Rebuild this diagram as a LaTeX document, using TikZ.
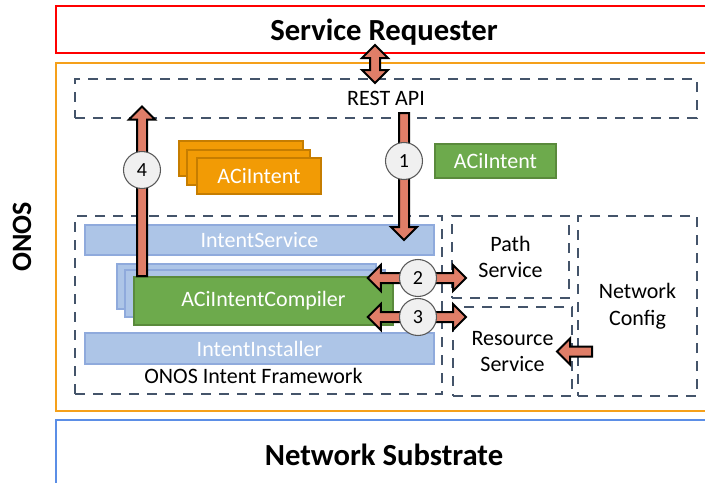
\documentclass[tikz,border=0pt]{standalone}
\usepackage{fontspec}
\setmainfont{Carlito}
\usetikzlibrary{calc,positioning,fit}

\definecolor{navy}{HTML}{44546A}
\definecolor{salmon}{HTML}{E07E68}
\definecolor{onosorange}{HTML}{F5A01A}
\definecolor{subsblue}{HTML}{5B8EE6}
\definecolor{barfill}{HTML}{ADC5E7}
\definecolor{barline}{HTML}{8FAADC}
\definecolor{greenfill}{HTML}{6DAA4C}
\definecolor{greenline}{HTML}{5A8A3C}
\definecolor{orangefill}{HTML}{F29B05}
\definecolor{orangeline}{HTML}{C67D00}

\tikzset{
  txt/.style={font=\fontsize{16.5}{20}\selectfont},
  head/.style={font=\fontsize{23}{26}\selectfont\bfseries},
  layer/.style={inner sep=0pt,line width=1.5pt},
  dashbox/.style={draw=navy,line width=1.5pt,dash pattern=on 7.5pt off 6pt,inner sep=0pt},
  bluebar/.style={draw=barline,fill=barfill,line width=1.2pt,inner sep=0pt},
  greenbox/.style={draw=greenline,fill=greenfill,line width=1.2pt,inner sep=0pt},
  orangebox/.style={draw=orangeline,fill=orangefill,line width=1.2pt,inner sep=0pt},
  intext/.style={txt,align=center},
  whitetext/.style={txt,text=white},
  num/.style={circle,draw=gray!70!black,fill=gray!12,line width=0.8pt,minimum size=27.75pt,inner sep=0pt,font=\fontsize{15}{17}\selectfont},
  blockarr/.style={draw=black,fill=salmon,line width=1.5pt,line join=miter}
}

% single block arrow from #1 to tip #2
\newcommand{\blockarrow}[2]{%
  \coordinate (ba-s) at (#1);
  \coordinate (ba-e) at (#2);
  \coordinate (ba-h) at ($(ba-e)!9.75pt!(ba-s)$);
  \draw[blockarr] ($(ba-s)!3.75pt!90:(ba-e)$) -- ($(ba-h)!3.75pt!90:(ba-e)$)
    -- ($(ba-h)!9.75pt!90:(ba-e)$) -- (ba-e) -- ($(ba-h)!9.75pt!-90:(ba-e)$)
    -- ($(ba-h)!3.75pt!-90:(ba-e)$) -- ($(ba-s)!3.75pt!-90:(ba-e)$) -- cycle;
}
% block arrow with tips at both ends
\newcommand{\dblarrow}[2]{%
  \coordinate (ba-s) at (#1);
  \coordinate (ba-e) at (#2);
  \coordinate (ba-h) at ($(ba-s)!9.75pt!(ba-e)$);
  \coordinate (ba-k) at ($(ba-e)!9.75pt!(ba-s)$);
  \draw[blockarr] (ba-s) -- ($(ba-h)!9.75pt!90:(ba-e)$) -- ($(ba-h)!3.75pt!90:(ba-e)$)
    -- ($(ba-k)!3.75pt!90:(ba-e)$) -- ($(ba-k)!9.75pt!90:(ba-e)$) -- (ba-e)
    -- ($(ba-k)!9.75pt!-90:(ba-e)$) -- ($(ba-k)!3.75pt!-90:(ba-e)$)
    -- ($(ba-h)!3.75pt!-90:(ba-e)$) -- ($(ba-h)!9.75pt!-90:(ba-e)$) -- cycle;
}

\begin{document}
\begin{tikzpicture}[x=0.75pt,y=-0.75pt]
  \useasboundingbox (0,0) rectangle (705,482);

  % layers
  \node (req) [layer,draw=red,fit={(56,6) (712,53)},label={[head,yshift=-2pt]center:Service Requester}] {};
  \node (onos) [layer,draw=onosorange,fit={(56,63) (712,411)}] {};
  \node (onoslabel) [head,font=\fontsize{21}{24}\selectfont\bfseries,rotate=90] at (22,237) {ONOS};
  \node (subs) [layer,draw=subsblue,fit={(56,420) (712,490)},label={[head]center:Network Substrate}] {};

  % inside ONOS
  \node (rest) [dashbox,fit={(75,79) (697,118)},label={[intext]center:REST API}] {};
  \node (fw) [dashbox,fit={(75,216) (442,394)}] {};
  \node (svc) [bluebar,fit={(85,225) (434,255)},label={[whitetext]center:IntentService}] {};
  \node (inst) [bluebar,fit={(85,333) (434,364)},label={[whitetext]center:IntentInstaller}] {};
  \node (fwlabel) [txt,below=-1pt of inst,xshift=-4.5pt] {ONOS Intent Framework};
  \node (comp3) [bluebar,fit={(117,264) (376,309)}] {};
  \node (comp2) [bluebar,fit={(125,270) (385,317)}] {};
  \node (comp) [greenbox,fit={(134,277) (393,325)},label={[whitetext]center:ACiIntentCompiler}] {};
  \node (int3) [orangebox,fit={(179,141) (303,176)}] {};
  \node (int2) [orangebox,fit={(187,150) (310,185)}] {};
  \node (int) [orangebox,fit={(197,158) (321,194)},label={[whitetext]center:ACiIntent}] {};
  \node (newint) [greenbox,fit={(435,144) (556,178)},label={[whitetext]center:ACiIntent}] {};
  \node (path) [dashbox,fit={(452,216) (569,298)},label={[intext]center:Path\\Service}] {};
  \node (res) [dashbox,fit={(453,307) (572,396)},label={[intext]center:Resource\\Service}] {};
  \node (ncfg) [dashbox,fit={(578,216) (697,396)},label={[intext]center:Network\\Config}] {};

  % steps
  \coordinate (p4) at (142,170);
  \coordinate (p1) at (404,161);
  \coordinate (p2) at (418,278);
  \coordinate (p3) at (418,317);

  \dblarrow{$(req.south)+(-9,-9)$}{$(rest.north)+(-11,5)$}
  \blockarrow{comp.north -| p4}{$(rest.center -| p4)+(0,8)$}
  \blockarrow{$(rest.south -| p1)+(0,-6)$}{svc.center -| p1}
  \dblarrow{$(comp.east |- p2)+(-26,0)$}{$(path.west |- p2)+(15,0)$}
  \dblarrow{$(comp.east |- p3)+(-26,0)$}{$(path.west |- p3)+(15,0)$}
  \blockarrow{$(res.east -| ncfg.west)+(15,0)$}{$(res.east)+(-16,0)$}

  \node (c4) [num] at (p4) {4};
  \node (c1) [num] at (p1) {1};
  \node (c2) [num] at (p2) {2};
  \node (c3) [num] at (p3) {3};
\end{tikzpicture}
\end{document}
